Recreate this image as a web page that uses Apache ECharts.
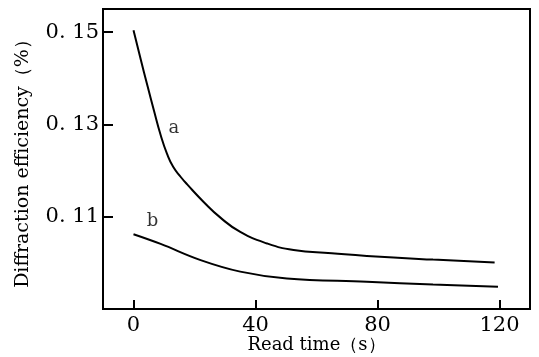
<!DOCTYPE html>
<html><head><meta charset="utf-8">
<script src="https://cdn.jsdelivr.net/npm/echarts@6/dist/echarts.min.js"></script>
<style>html,body{margin:0;padding:0;background:#fff}#c{width:539px;height:357px}</style>
</head><body><div id="c"></div>
<script>
const xTicks = [0, 40, 80, 120];
const yTicks = [0.11, 0.13, 0.15];
const seriesA = [[0,0.1504],[2.4,0.1440],[4.6,0.1383],[6.7,0.1330],[8.9,0.1277],[11,0.1236],[13,0.1208],[15.5,0.1186],[17.6,0.1170],[23,0.1132],[28.5,0.1098],[35,0.1067],[43.8,0.1042],[52.5,0.1028],[65,0.1021],[76.5,0.1015],[98.2,0.1007],[118.4,0.1001]];
const seriesB = [[0,0.1062],[8.9,0.1041],[22,0.1006],[35,0.0981],[50.3,0.0966],[76.5,0.0959],[98.2,0.0953],[119.5,0.0948]];
const labelA = [13.2, 0.1292];
const labelB = [6.2, 0.1089];

const font = 'DejaVu Serif';
const chart = echarts.init(document.getElementById('c'), null, {renderer:'canvas'});
chart.setOption({
  animation: false,
  grid: {left:103, right:9, top:9, bottom:48, show:true, borderColor:'#000', borderWidth:2, containLabel:false, outerBoundsMode:'none'},
  xAxis: {
    type:'value', min:-10, max:130,
    name:'Read time（s）', nameLocation:'middle', nameGap:27, nameMoveOverlap:false,
    nameTextStyle:{fontFamily:font, fontSize:18, color:'#000'},
    axisLine:{show:true, onZero:false, lineStyle:{color:'#000', width:2}},
    axisTick:{show:true, inside:true, length:9, customValues:xTicks, lineStyle:{color:'#000', width:2}},
    axisLabel:{customValues:xTicks, margin:6, fontFamily:font, fontSize:21, color:'#000'},
    splitLine:{show:false}
  },
  yAxis: {
    type:'value', min:0.09, max:0.155,
    name:'Diffraction efficiency（%）', nameLocation:'middle', nameGap:70, nameMoveOverlap:false,
    nameTextStyle:{fontFamily:font, fontSize:19, color:'#000'},
    axisLine:{show:true, onZero:false, lineStyle:{color:'#000', width:2}},
    axisTick:{show:true, inside:true, length:10, customValues:yTicks, lineStyle:{color:'#000', width:2}},
    axisLabel:{customValues:yTicks, margin:4, fontFamily:font, fontSize:21, color:'#000',
      formatter: v => v.toFixed(2).replace('.', '. ')},
    splitLine:{show:false}
  },
  series: [
    {type:'line', data:seriesA, smooth:0.5, symbol:'none', lineStyle:{color:'#000', width:2}},
    {type:'line', data:seriesB, smooth:0.4, symbol:'none', lineStyle:{color:'#000', width:2}},
    {type:'scatter', symbolSize:0, data:[{value:labelA, name:'a'},{value:labelB, name:'b'}],
      label:{show:true, position:'inside', formatter:p=>p.name, fontFamily:font, fontSize:18, color:'#000'}}
  ]
});
</script></body></html>
